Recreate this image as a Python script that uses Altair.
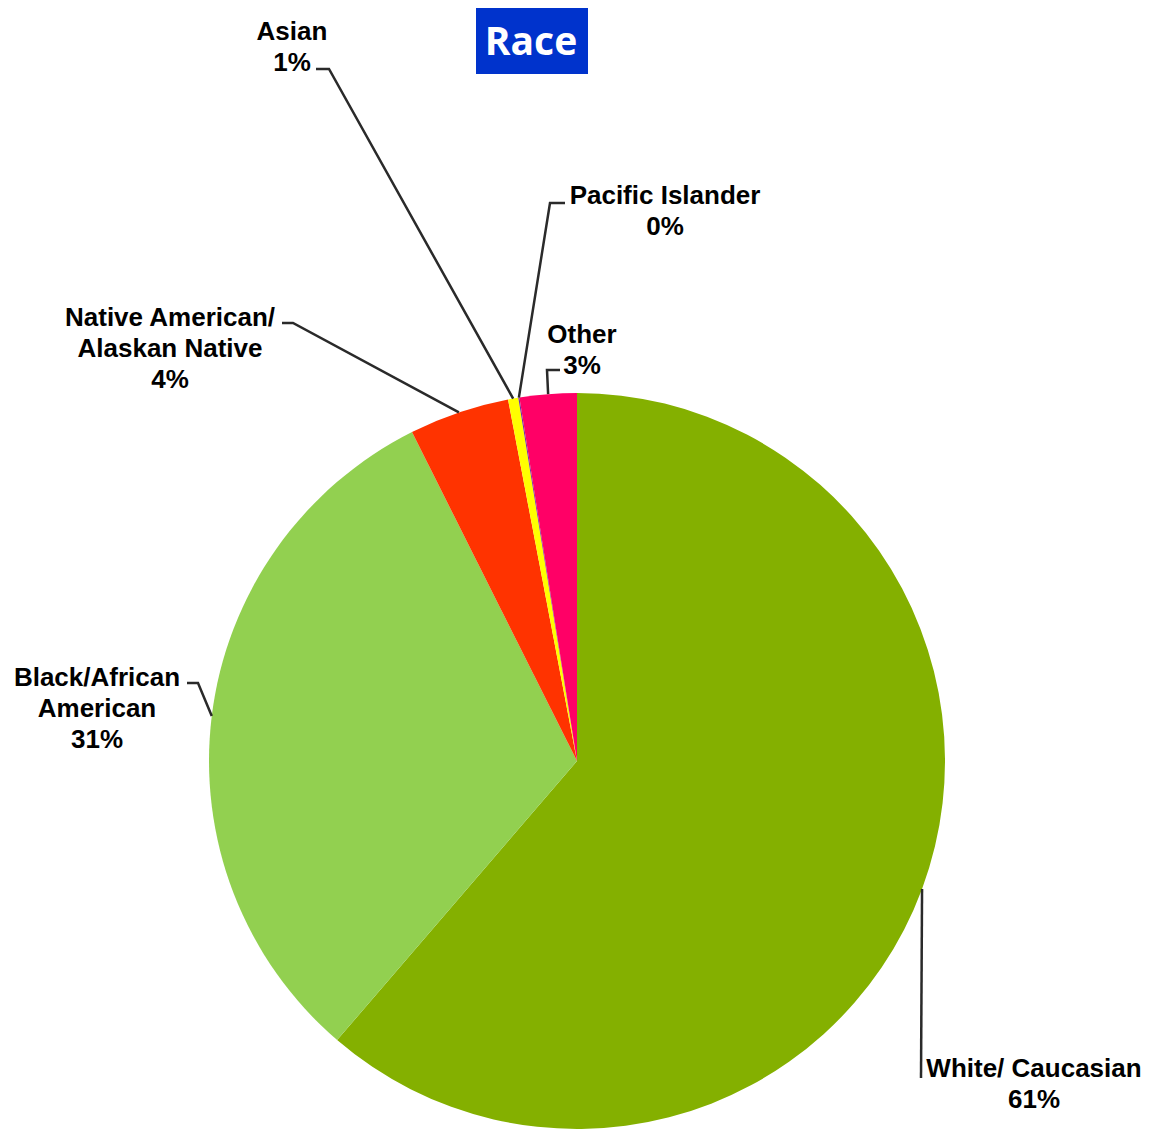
import math
import altair as alt
import pandas as pd

# ---------------- data ----------------
categories = ["White/ Caucasian", "Black/African American", "Native American/ Alaskan Native",
              "Asian", "Pacific Islander", "Other"]
values = [61.3, 31.3, 4.4, 0.45, 0.05, 2.5]
pct_labels = ["61%", "31%", "4%", "1%", "0%", "3%"]
label_lines = [["White/ Caucasian"], ["Black/African", "American"],
               ["Native American/", "Alaskan Native"], ["Asian"], ["Pacific Islander"], ["Other"]]
colors = ["#84B000", "#92D050", "#FF3300", "#FFFF00", "#7030A0", "#FF0066"]
title_text = "Race"

# ---------------- layout (chart pixel coordinates) ----------------
W, H = 1145, 1123
CX, CY, R = 569, 753, 368
LINE_H = 31
FONT_SIZE = 26
label_pos = [(1026, 1069), (89, 678), (162, 318), (284, 32), (657, 196), (574, 335)]
leader_elbow = [(913, 1070), (190, 675), (285, 315), (321, 61), (542, 195), (539, 362)]
leader_end = [(913, 1070), (179, 675), (274, 315), (308, 61), (557, 195), (552, 362)]

# ---------------- derived tables ----------------
total = sum(values)
pie_df = pd.DataFrame({"cat": categories, "value": values, "idx": list(range(len(values)))})

line_rows, text_rows = [], []
cum = 0.0
for i, (c, v) in enumerate(zip(categories, values)):
    mid = (cum + v / 2) / total
    cum += v
    a = 2 * math.pi * mid
    ex, ey = CX + R * math.sin(a), CY - R * math.cos(a)
    pts = [leader_end[i], leader_elbow[i], (ex, ey)]
    for k, (px, py) in enumerate(pts):
        line_rows.append({"cat": c, "ord": k, "x": px, "y": py})
    lines = label_lines[i] + [pct_labels[i]]
    for j, t in enumerate(lines):
        text_rows.append({"cat": c, "t": t, "x": label_pos[i][0], "y": label_pos[i][1] + j * LINE_H})

line_df = pd.DataFrame(line_rows)
text_df = pd.DataFrame(text_rows)

xs = alt.Scale(domain=[0, W], range=[0, W], nice=False, zero=False)
ys = alt.Scale(domain=[0, H], range=[0, H], nice=False, zero=False)

pie = alt.Chart(pie_df).mark_arc(outerRadius=R).encode(
    theta=alt.Theta("value:Q", stack=True),
    color=alt.Color("cat:N", scale=alt.Scale(domain=categories, range=colors), legend=None),
    order=alt.Order("idx:Q"),
    x=alt.value(CX),
    y=alt.value(CY),
)

leaders = alt.Chart(line_df).mark_line(color="#2a2a2a", strokeWidth=2.5).encode(
    x=alt.X("x:Q", scale=xs, axis=None),
    y=alt.Y("y:Q", scale=ys, axis=None),
    detail="cat:N",
    order="ord:Q",
)

labels = alt.Chart(text_df).mark_text(
    font="Liberation Sans", fontWeight="bold", fontSize=FONT_SIZE,
    align="center", baseline="alphabetic", color="#000000",
).encode(
    x=alt.X("x:Q", scale=xs, axis=None),
    y=alt.Y("y:Q", scale=ys, axis=None),
    text="t:N",
)

title_df = pd.DataFrame({"t": [title_text]})
title_box = alt.Chart(title_df).mark_rect(color="#0033CC").encode(
    x=alt.value(468), x2=alt.value(580), y=alt.value(-2), y2=alt.value(66),
)
title_lbl = alt.Chart(title_df).mark_text(
    font="Open Sans", fontWeight="bold", fontSize=39, color="white",
    align="center", baseline="alphabetic",
).encode(x=alt.value(523), y=alt.value(47), text="t:N")

chart = alt.layer(pie, leaders, labels, title_box, title_lbl).properties(
    width=W, height=H, padding=0, autosize=alt.AutoSizeParams(type="none"),
    background="white",
).configure_view(stroke=None)

chart.save("out.html", embed_options={"renderer": "svg", "actions": False})
